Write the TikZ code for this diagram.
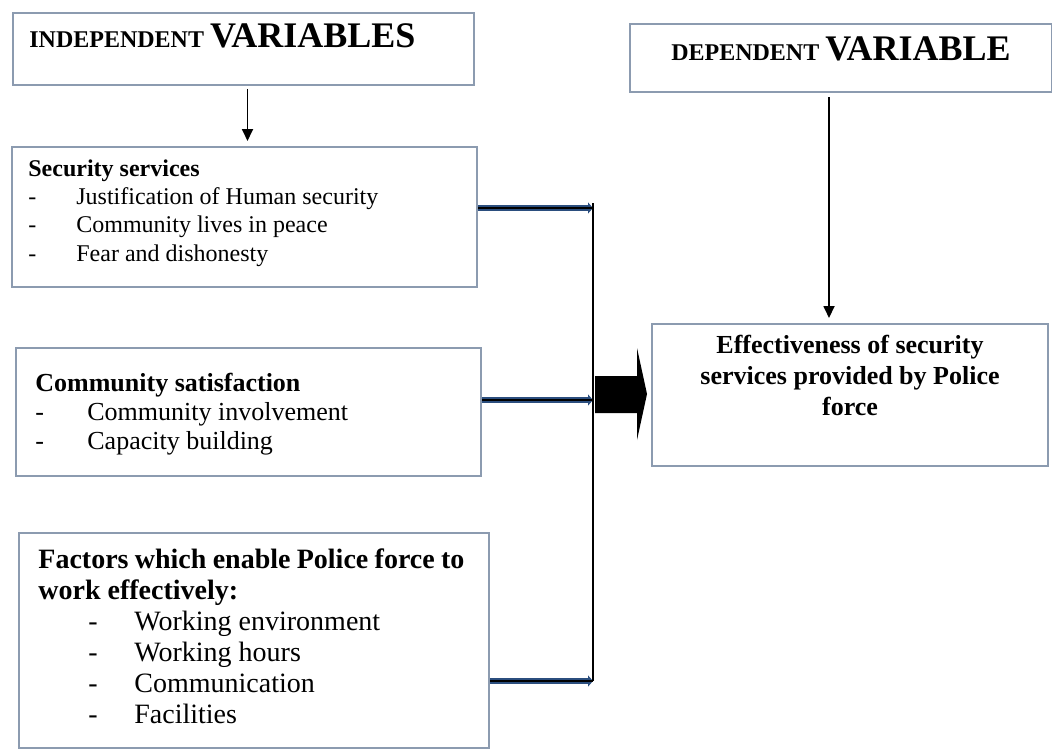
\documentclass[tikz,border=0pt]{standalone}
\usepackage{fontspec}
\setmainfont{Liberation Serif}
\usetikzlibrary{arrows.meta,positioning}
\definecolor{boxline}{HTML}{8C9BB0}
\definecolor{feedblue}{HTML}{2B4E7E}

\tikzset{
  varbox/.style={draw=boxline, line width=1pt, inner sep=0pt, anchor=north west},
  txt/.style={inner sep=0pt, align=left},
  link/.style={-{Triangle[length=6pt,width=5.5pt]}, line width=0.9pt},
  feed/.style={draw=feedblue, line width=3pt, -{Triangle[length=2.5pt,width=5.5pt]},
    postaction={draw=black, line width=1.3pt, -}},
}
\newcommand{\dashitem}[2]{\makebox[#1][l]{-}#2}

\begin{document}
\begin{tikzpicture}[x=0.5pt, y=-0.5pt]
  \useasboundingbox (0,0) rectangle (1052,749);

  % variable headers
  \node[varbox, minimum width=230.5pt, minimum height=36pt] (indep) at (12,12) {};
  \node[txt, below right=5.6pt and 8.5pt of indep.north west, font=\bfseries]
    {\fontsize{12}{14}\selectfont INDEPENDENT \fontsize{18}{20}\selectfont VARIABLES};
  \node[varbox, minimum width=211pt, minimum height=34pt] (dep) at (629,23) {};
  \node[txt, below=6.5pt of dep.north, font=\bfseries]
    {\fontsize{12}{14}\selectfont DEPENDENT \fontsize{18}{20}\selectfont VARIABLE};

  % independent boxes
  \node[varbox, minimum width=232.5pt, minimum height=70pt] (sec) at (11,146) {};
  \node[txt, below right=6.5pt and 8.5pt of sec.north west, font=\fontsize{12}{14.2}\selectfont]
    {\textbf{Security services}\\
     \dashitem{24pt}{Justification of Human security}\\
     \dashitem{24pt}{Community lives in peace}\\
     \dashitem{24pt}{Fear and dishonesty}};

  \node[varbox, minimum width=232.5pt, minimum height=64pt] (comm) at (15,347) {};
  \node[txt, below right=13pt and 10pt of comm.north west, font=\fontsize{13}{14.5}\selectfont]
    {\textbf{Community satisfaction}\\
     \dashitem{26pt}{Community involvement}\\
     \dashitem{26pt}{Capacity building}};

  \node[varbox, minimum width=235pt, minimum height=107.5pt] (fact) at (18,532) {};
  \node[txt, below right=8pt and 10pt of fact.north west, font=\fontsize{14}{15.5}\selectfont,
    text width=213pt, align=justify]
    {\textbf{Factors which enable Police force to work effectively:}\\
     \hspace*{25pt}\dashitem{23pt}{Working environment}\\
     \hspace*{25pt}\dashitem{23pt}{Working hours}\\
     \hspace*{25pt}\dashitem{23pt}{Communication}\\
     \hspace*{25pt}\dashitem{23pt}{Facilities}};

  % dependent box
  \node[varbox, minimum width=198pt, minimum height=71pt] (eff) at (651,323) {};
  \node[txt, below=6pt of eff.north, align=center, font=\bfseries\fontsize{13}{15.5}\selectfont]
    {Effectiveness of security\\ services provided by Police\\ force};

  % connectors
  \draw[link, shorten <=1.5pt, shorten >=2.5pt] ([xshift=2pt]indep.south) -- ([xshift=2pt]indep.south |- sec.north);
  \draw[link, shorten <=2pt, shorten >=2.5pt] ([xshift=-6pt]dep.south) -- ([xshift=-6pt]dep.south |- eff.north);

  \coordinate (s1) at (593,208);
  \coordinate (s2) at (593,400);
  \coordinate (s3) at (593,681);
  \draw[line width=1pt] ([yshift=2.5pt]s1) -- (s3);
  \draw[feed] (sec.east |- s1) -- (s1);
  \draw[feed] (comm.east |- s2) -- (s2);
  \draw[feed] (fact.east |- s3) -- (s3);

  % block arrow into the dependent box
  \fill (595,376) -- (637,376) -- (637,348) -- (647,394) -- (637,440) -- (637,413) -- (595,413) -- cycle;
\end{tikzpicture}
\end{document}
